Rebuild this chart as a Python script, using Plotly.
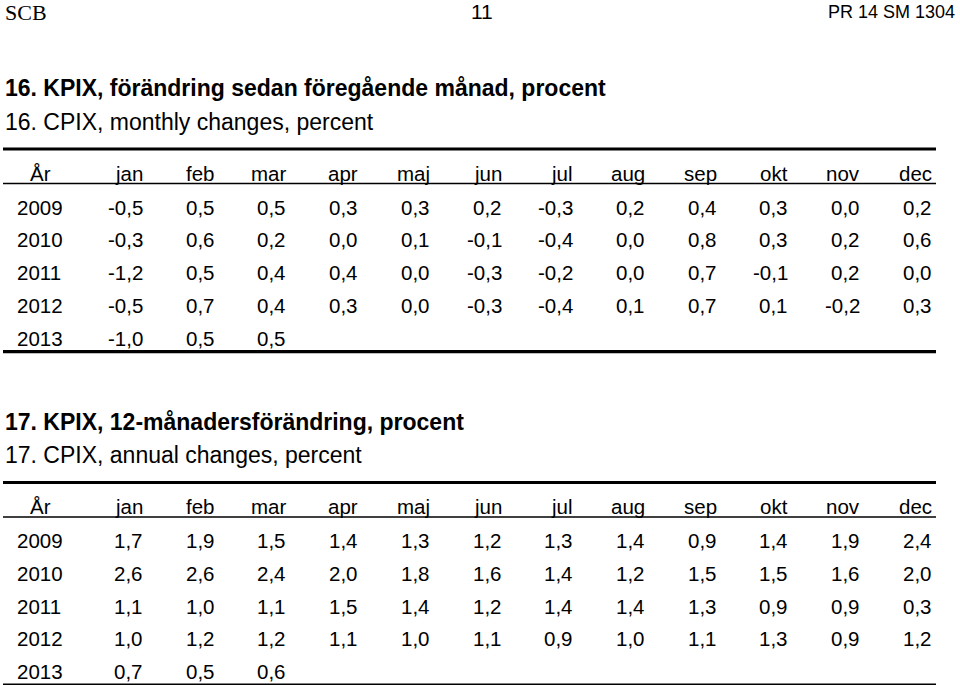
import plotly.graph_objects as go

# ---------------- data ----------------
months = ["jan", "feb", "mar", "apr", "maj", "jun", "jul", "aug", "sep", "okt", "nov", "dec"]
years = ["2009", "2010", "2011", "2012", "2013"]

# Table 16: monthly changes, percent
monthly_2009 = [-0.5, 0.5, 0.5, 0.3, 0.3, 0.2, -0.3, 0.2, 0.4, 0.3, 0.0, 0.2]
monthly_2010 = [-0.3, 0.6, 0.2, 0.0, 0.1, -0.1, -0.4, 0.0, 0.8, 0.3, 0.2, 0.6]
monthly_2011 = [-1.2, 0.5, 0.4, 0.4, 0.0, -0.3, -0.2, 0.0, 0.7, -0.1, 0.2, 0.0]
monthly_2012 = [-0.5, 0.7, 0.4, 0.3, 0.0, -0.3, -0.4, 0.1, 0.7, 0.1, -0.2, 0.3]
monthly_2013 = [-1.0, 0.5, 0.5]

# Table 17: annual (12-month) changes, percent
annual_2009 = [1.7, 1.9, 1.5, 1.4, 1.3, 1.2, 1.3, 1.4, 0.9, 1.4, 1.9, 2.4]
annual_2010 = [2.6, 2.6, 2.4, 2.0, 1.8, 1.6, 1.4, 1.2, 1.5, 1.5, 1.6, 2.0]
annual_2011 = [1.1, 1.0, 1.1, 1.5, 1.4, 1.2, 1.4, 1.4, 1.3, 0.9, 0.9, 0.3]
annual_2012 = [1.0, 1.2, 1.2, 1.1, 1.0, 1.1, 0.9, 1.0, 1.1, 1.3, 0.9, 1.2]
annual_2013 = [0.7, 0.5, 0.6]

header_left = "SCB"
header_mid = "11"
header_right = "PR 14 SM 1304"
title16_sv = "16. KPIX, förändring sedan föregående månad, procent"
title16_en = "16. CPIX, monthly changes, percent"
title17_sv = "17. KPIX, 12-månadersförändring, procent"
title17_en = "17. CPIX, annual changes, percent"
year_label = "År"

# ---------------- layout helpers ----------------
W, H = 960, 685
SANS = "Liberation Sans, Arial, sans-serif"
SERIF = "Liberation Serif, Times New Roman, serif"
FS = 20.5
FS_TITLE = 23
col_right0 = 143.0
col_step = 71.7
row_step = 32.8
line_x0, line_x1 = 3, 936

annotations = []
shapes = []


def fmt(v):
    return f"{v:.1f}".replace(".", ",")


def text(x, y, s, size=FS, anchor="left", bold=False, family=SANS):
    annotations.append(dict(
        x=x, y=y, xref="x", yref="y", text=(f"<b>{s}</b>" if bold else s),
        showarrow=False, xanchor=anchor, yanchor="middle",
        font=dict(family=family, size=size, color="black"), borderpad=0,
    ))


def hline(y, width):
    shapes.append(dict(type="line", xref="x", yref="y", x0=line_x0, x1=line_x1,
                       y0=y, y1=y, line=dict(color="black", width=width)))


def table(top, title_sv, title_en, rows):
    # top = y of title (sv)
    text(4, top, title_sv, size=FS_TITLE, bold=True)
    text(4, top + 33.5, title_en, size=FS_TITLE)
    hline(top + 61, 3.2)
    hy = top + 85
    text(40, hy, year_label, anchor="center")
    for i, m in enumerate(months):
        text(col_right0 + i * col_step + 1, hy, m, anchor="right")
    hline(top + 95.5, 1.6)
    for r, (yr, vals) in enumerate(zip(years, rows)):
        ry = top + 119 + r * row_step
        text(15.5, ry, yr, anchor="left")
        for i, v in enumerate(vals):
            if v is None:
                continue
            text(col_right0 + i * col_step + 1, ry, fmt(v), anchor="right")
    return top + 119 + 4 * row_step + 13.5


# page header
text(4, 12, header_left, size=22, family=SERIF)
text(482, 11, header_mid, size=21, anchor="center")
text(956, 12, header_right, size=18, anchor="right")

b1 = table(88, title16_sv, title16_en,
           [monthly_2009, monthly_2010, monthly_2011, monthly_2012, monthly_2013])
hline(b1, 3.2)
b2 = table(421.5, title17_sv, title17_en,
           [annual_2009, annual_2010, annual_2011, annual_2012, annual_2013])
hline(b2, 3.2)

fig = go.Figure()
fig.update_layout(
    width=W, height=H,
    margin=dict(l=0, r=0, t=0, b=0),
    paper_bgcolor="white", plot_bgcolor="white",
    xaxis=dict(range=[0, W], visible=False, fixedrange=True),
    yaxis=dict(range=[H, 0], visible=False, fixedrange=True),
    annotations=annotations, shapes=shapes, showlegend=False,
)
fig.write_html("out.html", config={"displayModeBar": False},
               post_script="document.body.style.margin='0';")
